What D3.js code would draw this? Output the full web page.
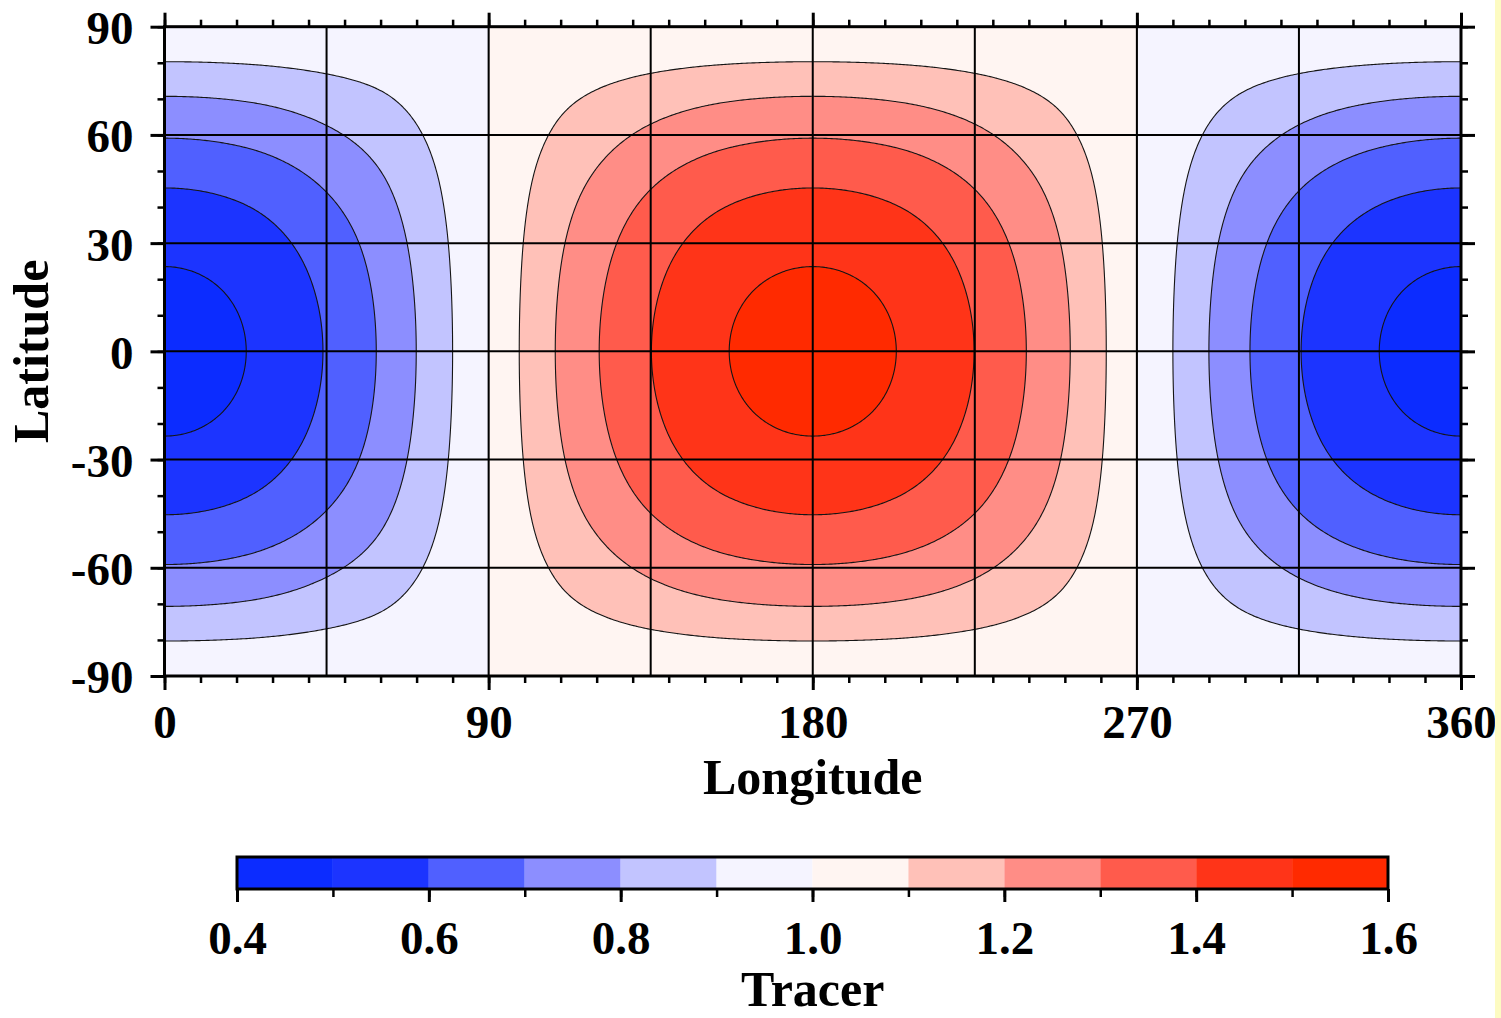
<!DOCTYPE html>
<html>
<head>
<meta charset="utf-8">
<script src="https://cdn.jsdelivr.net/npm/d3@7"></script>
<style>
  body { margin: 0; background: #fff; }
  svg { display: block; }
  text { font-family: "Liberation Serif", "Times New Roman", serif; font-weight: bold; fill: #000; }
</style>
</head>
<body>
<svg id="chart" width="1501" height="1018"></svg>
<script>
// Tracer along the equator: longitude of each contour crossing and its level
const eqLon    = [0, 22.7, 44, 58.8, 69.9, 80, 90, 98.5, 108.5, 120.7, 135.2, 156.8, 180,
                  203.2, 224.8, 239.3, 251.5, 261.5, 270, 280, 290, 301.4, 315.6, 337.3, 360];
const eqTracer = [0.465, 0.5, 0.6, 0.7, 0.8, 0.9, 1.0, 1.1, 1.2, 1.3, 1.4, 1.5, 1.535,
                  1.5, 1.4, 1.3, 1.2, 1.1, 1.0, 0.9, 0.8, 0.7, 0.6, 0.5, 0.465];

// Tracer along the 180° meridian: latitude of each contour crossing and its level
const merLat    = [-90, -80.3, -70.7, -59.1, -45.3, -23.5, 0, 23.5, 45.3, 59.1, 70.7, 80.3, 90];
const merTracer = [1.0, 1.1, 1.2, 1.3, 1.4, 1.5, 1.535, 1.5, 1.4, 1.3, 1.2, 1.1, 1.0];

// Colour bar: level edges and the fill of each bin
const levels = [0.4, 0.5, 0.6, 0.7, 0.8, 0.9, 1.0, 1.1, 1.2, 1.3, 1.4, 1.5, 1.6];
const binColors = ["#0c2cff", "#1c34ff", "#5060ff", "#8c8eff", "#c2c4ff", "#f5f4ff",
                   "#fff5f2", "#ffc1b8", "#ff8d86", "#ff5b4c", "#ff3418", "#ff2a00"];

const lonTicks = [0, 90, 180, 270, 360];
const latTicks = [-90, -60, -30, 0, 30, 60, 90];
const lonGrid  = [45, 90, 135, 180, 225, 270, 315];
const latGrid  = [-60, -30, 0, 30, 60];
const barTicks = [0.4, 0.6, 0.8, 1.0, 1.2, 1.4, 1.6];

// Smooth monotone (Steffen) interpolation through the crossing points
function monotone(xs, ys, flatEnds) {
  const n = xs.length, h = [], s = [], m = new Array(n);
  for (let i = 0; i < n - 1; i++) { h[i] = xs[i + 1] - xs[i]; s[i] = (ys[i + 1] - ys[i]) / h[i]; }
  m[0] = flatEnds ? 0 : s[0];
  m[n - 1] = flatEnds ? 0 : s[n - 2];
  for (let i = 1; i < n - 1; i++) {
    if (s[i - 1] * s[i] <= 0) { m[i] = 0; continue; }
    const p = (s[i - 1] * h[i] + s[i] * h[i - 1]) / (h[i - 1] + h[i]);
    m[i] = (Math.sign(s[i - 1]) + Math.sign(s[i])) *
           Math.min(Math.abs(s[i - 1]), Math.abs(s[i]), 0.5 * Math.abs(p));
  }
  return x => {
    let i = Math.max(0, Math.min(n - 2, d3.bisectRight(xs, x) - 1));
    const t = (x - xs[i]) / h[i], t2 = t * t, t3 = t2 * t;
    return (2 * t3 - 3 * t2 + 1) * ys[i] + (t3 - 2 * t2 + t) * h[i] * m[i] +
           (-2 * t3 + 3 * t2) * ys[i + 1] + (t3 - t2) * h[i] * m[i + 1];
  };
}

const eqProfile = monotone(eqLon, eqTracer, true);
const merProfile = monotone(merLat, merTracer, false);
const merPeak = merProfile(0) - 1;

const svg = d3.select("#chart");
const plot = { left: 164.5, right: 1461, top: 26.7, bottom: 676 };

const x = d3.scaleLinear().domain([0, 360]).range([plot.left, plot.right]);
const y = d3.scaleLinear().domain([-90, 90]).range([plot.bottom, plot.top]);

// Tracer field on a 0.5° grid of cell centres
const res = 0.5, nx = 360 / res, ny = 180 / res;
const values = new Float64Array(nx * ny);
for (let j = 0; j < ny; j++) {
  const lat = 90 - (j + 0.5) * res;
  const mer = (merProfile(lat) - 1) / merPeak;
  for (let i = 0; i < nx; i++) {
    const lon = (i + 0.5) * res;
    values[j * nx + i] = 1 + (eqProfile(lon) - 1) * mer;
  }
}

const thresholds = levels.slice(1, -1);
const contours = d3.contours().size([nx, ny]).thresholds(thresholds)(values);

const path = d3.geoPath(d3.geoTransform({
  point(px, py) { this.stream.point(x(px * res), y(90 - py * res)); }
}));

svg.append("clipPath").attr("id", "plot-clip")
  .append("rect")
  .attr("x", plot.left).attr("y", plot.top)
  .attr("width", plot.right - plot.left).attr("height", plot.bottom - plot.top);

const field = svg.append("g").attr("clip-path", "url(#plot-clip)");

// Lowest bin underneath, then each band above its threshold
field.append("rect")
  .attr("x", plot.left).attr("y", plot.top)
  .attr("width", plot.right - plot.left).attr("height", plot.bottom - plot.top)
  .attr("fill", binColors[0]);

field.selectAll("path.band")
  .data(contours)
  .join("path")
  .attr("class", "band")
  .attr("d", path)
  .attr("fill", (d, i) => binColors[i + 1])
  .attr("stroke", "none");

field.selectAll("path.line")
  .data(contours)
  .join("path")
  .attr("class", "line")
  .attr("d", path)
  .attr("fill", "none")
  .attr("stroke", "#151515")
  .attr("stroke-width", 1.1);

// Grid lines
field.selectAll("line.glon")
  .data(lonGrid)
  .join("line")
  .attr("x1", d => x(d)).attr("x2", d => x(d))
  .attr("y1", plot.top).attr("y2", plot.bottom)
  .attr("stroke", "#000").attr("stroke-width", 2);

field.selectAll("line.glat")
  .data(latGrid)
  .join("line")
  .attr("x1", plot.left).attr("x2", plot.right)
  .attr("y1", d => y(d)).attr("y2", d => y(d))
  .attr("stroke", "#000").attr("stroke-width", 2);

// Axes: major ticks with labels, minor ticks every 10°
function styleAxis(g, width) {
  g.select(".domain").remove();
  g.selectAll(".tick line").attr("stroke", "#000").attr("stroke-width", width);
}
const plainNumber = d => String(d);

const minorLon = d3.range(0, 361, 10);
const minorLat = d3.range(-90, 91, 10);

svg.append("g").attr("transform", `translate(0,${plot.bottom})`)
  .call(d3.axisBottom(x).tickValues(minorLon).tickSize(7).tickFormat(""))
  .call(g => styleAxis(g, 2.5));
svg.append("g").attr("transform", `translate(0,${plot.top})`)
  .call(d3.axisTop(x).tickValues(minorLon).tickSize(7).tickFormat(""))
  .call(g => styleAxis(g, 2.5));
svg.append("g").attr("transform", `translate(${plot.left},0)`)
  .call(d3.axisLeft(y).tickValues(minorLat).tickSize(7).tickFormat(""))
  .call(g => styleAxis(g, 2.5));
svg.append("g").attr("transform", `translate(${plot.right},0)`)
  .call(d3.axisRight(y).tickValues(minorLat).tickSize(7).tickFormat(""))
  .call(g => styleAxis(g, 2.5));

const bottomAxis = svg.append("g").attr("transform", `translate(0,${plot.bottom})`)
  .call(d3.axisBottom(x).tickValues(lonTicks).tickSize(14).tickFormat(plainNumber))
  .call(g => styleAxis(g, 3));
bottomAxis.selectAll(".tick text")
  .attr("y", 62).attr("dy", 0)
  .style("font-size", "47px").style("font-family", "Liberation Serif").style("font-weight", "bold");

svg.append("g").attr("transform", `translate(0,${plot.top})`)
  .call(d3.axisTop(x).tickValues(lonTicks).tickSize(14).tickFormat(""))
  .call(g => styleAxis(g, 3));

const leftAxis = svg.append("g").attr("transform", `translate(${plot.left},0)`)
  .call(d3.axisLeft(y).tickValues(latTicks).tickSize(14).tickFormat(plainNumber))
  .call(g => styleAxis(g, 3));
leftAxis.selectAll(".tick text")
  .attr("x", -31).attr("dy", "0.36em")
  .style("font-size", "47px").style("font-family", "Liberation Serif").style("font-weight", "bold");

svg.append("g").attr("transform", `translate(${plot.right},0)`)
  .call(d3.axisRight(y).tickValues(latTicks).tickSize(14).tickFormat(""))
  .call(g => styleAxis(g, 3));

// Plot frame
svg.append("rect")
  .attr("x", plot.left).attr("y", plot.top)
  .attr("width", plot.right - plot.left).attr("height", plot.bottom - plot.top)
  .attr("fill", "none").attr("stroke", "#000").attr("stroke-width", 3);

// Axis titles
svg.append("text")
  .attr("x", (plot.left + plot.right) / 2).attr("y", 794)
  .attr("text-anchor", "middle").style("font-size", "50px")
  .text("Longitude");

svg.append("text")
  .attr("transform", `translate(48,${(plot.top + plot.bottom) / 2}) rotate(-90)`)
  .attr("text-anchor", "middle").style("font-size", "50px")
  .text("Latitude");

// Colour bar
const bar = { top: 857, bottom: 889 };
const cx = d3.scaleLinear().domain([0.4, 1.6]).range([237, 1388]);

svg.append("g").selectAll("rect")
  .data(binColors)
  .join("rect")
  .attr("x", (d, i) => cx(levels[i]))
  .attr("y", bar.top)
  .attr("width", (d, i) => cx(levels[i + 1]) - cx(levels[i]))
  .attr("height", bar.bottom - bar.top)
  .attr("fill", d => d);

svg.append("g").attr("transform", `translate(0,${bar.bottom})`)
  .call(d3.axisBottom(cx).tickValues(levels).tickSize(8).tickFormat(""))
  .call(g => styleAxis(g, 2.5));

const barAxis = svg.append("g").attr("transform", `translate(0,${bar.bottom})`)
  .call(d3.axisBottom(cx).tickValues(barTicks).tickSize(13).tickFormat(d3.format(".1f")))
  .call(g => styleAxis(g, 3));
barAxis.selectAll(".tick text")
  .attr("y", 65).attr("dy", 0)
  .style("font-size", "47px").style("font-family", "Liberation Serif").style("font-weight", "bold");

svg.append("rect")
  .attr("x", cx(0.4)).attr("y", bar.top)
  .attr("width", cx(1.6) - cx(0.4)).attr("height", bar.bottom - bar.top)
  .attr("fill", "none").attr("stroke", "#000").attr("stroke-width", 3);

svg.append("text")
  .attr("x", (plot.left + plot.right) / 2).attr("y", 1006)
  .attr("text-anchor", "middle").style("font-size", "50px")
  .text("Tracer");

// Page border strip on the right
svg.append("rect")
  .attr("x", 1495).attr("y", 0).attr("width", 6).attr("height", 1018)
  .attr("fill", "#fdfbc2");
</script>
</body>
</html>
